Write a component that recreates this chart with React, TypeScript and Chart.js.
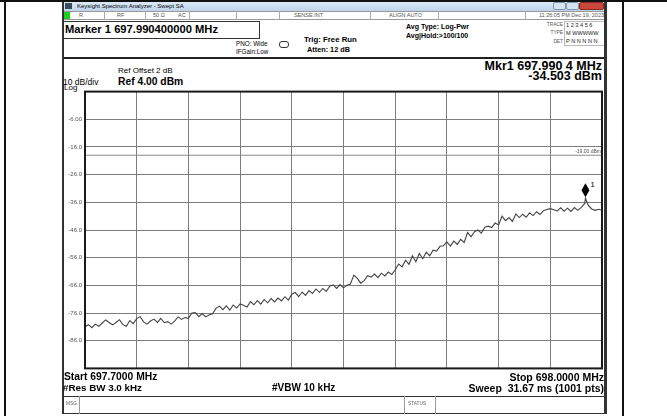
import { useEffect, useRef } from 'react';
import { Chart, registerables } from 'chart.js';
Chart.register(...registerables);

const startMHz = 697.7;
const stopMHz = 698.0;
const stepMHz = 0.002;
const refLevel = 4;
const bottomLevel = -96;
const dbPerDiv = 10;
const xDivMHz = 0.03;
const displayLineDbm = -19;
const markerFreq = 697.9904;
const markerDbm = -34.503;

// trace samples (dBm), every 2 kHz from 697.700 MHz
const traceDbm = [
  -81.0, -80.2, -81.3, -80.0, -80.8, -79.6, -78.5, -79.4, -80.3, -79.4,
  -78.4, -80.2, -80.8, -78.7, -79.8, -78.0, -77.3, -79.2, -80.0, -78.9,
  -78.2, -79.4, -77.9, -79.5, -79.1, -80.0, -78.9, -77.4, -78.3, -77.6,
  -77.9, -76.0, -75.8, -77.3, -76.2, -77.4, -76.7, -76.3, -74.3, -73.5,
  -74.8, -73.4, -74.9, -73.1, -74.2, -72.7, -73.2, -73.8, -71.9, -73.0,
  -71.5, -72.8, -71.1, -72.3, -70.8, -72.0, -70.6, -71.6, -70.1, -71.3,
  -69.2, -68.6, -70.1, -68.4, -69.6, -67.9, -68.9, -67.3, -68.5, -67.1,
  -68.2, -66.3, -65.8, -67.1, -65.7, -66.9, -66.0, -65.5, -62.3, -63.5,
  -65.2, -64.3, -62.5, -63.0, -61.9, -63.2, -61.6, -62.6, -61.2, -62.1,
  -60.4, -58.3, -59.3, -56.9, -58.4, -55.3, -57.5, -54.5, -56.4, -54.0,
  -55.3, -53.3, -53.6, -51.9, -51.7, -50.3, -51.8, -50.0, -51.2, -49.4,
  -50.5, -46.9, -48.5, -46.6, -46.0, -47.1, -45.0, -44.6, -45.1, -43.5,
  -44.2, -41.0, -42.6, -41.5, -42.9, -40.2, -41.5, -40.3, -41.4, -39.8,
  -40.8, -39.4, -40.4, -39.0, -38.6, -38.3, -38.7, -39.1, -38.0, -39.2,
  -38.1, -39.3, -37.9, -38.9, -37.8, -36.4, -37.0, -38.4, -38.9, -38.5,
  -38.9,
];

const yTickLabels: Record<number, string> = {
  [-6]: '-6.00', [-16]: '-16.0', [-26]: '-26.0', [-36]: '-36.0', [-46]: '-46.0',
  [-56]: '-56.0', [-66]: '-66.0', [-76]: '-76.0', [-86]: '-86.0',
};

const FONT = '"Liberation Sans", Arial, sans-serif';

function T(props: { x: number; y: number; s: number; b?: boolean; r?: boolean; c?: string; children: any }) {
  const { x, y, s, b, r, c } = props;
  const style: any = {
    position: 'absolute',
    top: y - s * 0.6,
    lineHeight: s * 1.2 + 'px',
    fontSize: s,
    fontWeight: b ? 'bold' : 'normal',
    whiteSpace: 'pre',
    color: c || '#000',
  };
  if (r) style.right = 667 - x; else style.left = x;
  return <div style={style}>{props.children}</div>;
}

function Box(props: { x: number; y: number; w: number; h: number; bg?: string; border?: string; style?: any }) {
  return (
    <div
      style={{
        position: 'absolute', left: props.x, top: props.y, width: props.w, height: props.h,
        background: props.bg || 'transparent', border: props.border || 'none', boxSizing: 'border-box',
        ...(props.style || {}),
      }}
    />
  );
}

const overlay = {
  id: 'overlay',
  afterDraw(chart: any) {
    const { ctx, chartArea, scales } = chart;
    const x = scales.x, y = scales.y;
    ctx.save();
    ctx.strokeStyle = '#1a1a1a';
    ctx.lineWidth = 2;
    ctx.strokeRect(chartArea.left, chartArea.top, chartArea.right - chartArea.left, chartArea.bottom - chartArea.top);
    const px = x.getPixelForValue(markerFreq);
    const py = y.getPixelForValue(markerDbm);
    ctx.fillStyle = '#000';
    ctx.beginPath();
    ctx.moveTo(px, py - 15);
    ctx.lineTo(px + 4, py - 8);
    ctx.lineTo(px, py - 1);
    ctx.lineTo(px - 4, py - 8);
    ctx.closePath();
    ctx.fill();
    ctx.font = '8px ' + FONT;
    ctx.textAlign = 'left';
    ctx.textBaseline = 'alphabetic';
    ctx.fillText('1', px + 5, py - 11);
    const ly = y.getPixelForValue(displayLineDbm);
    ctx.font = '5px ' + FONT;
    ctx.fillStyle = '#555';
    ctx.textAlign = 'right';
    ctx.fillText('-19.00 dBm', chartArea.right - 1, ly - 2);
    ctx.restore();
  },
};

function SpectrumChart() {
  const ref = useRef<HTMLCanvasElement | null>(null);
  useEffect(() => {
    if (!ref.current) return;
    const pts = traceDbm.map((v, i) => ({ x: startMHz + i * stepMHz, y: v }));
    pts.push({ x: markerFreq, y: markerDbm });
    pts.sort((a, b) => a.x - b.x);
    const chart = new Chart(ref.current, {
      type: 'line',
      data: {
        datasets: [
          {
            data: [{ x: startMHz, y: displayLineDbm }, { x: stopMHz, y: displayLineDbm }],
            borderColor: '#8a8a8a', borderWidth: 1, pointRadius: 0,
          },
          {
            data: pts,
            borderColor: '#444', borderWidth: 1.1, pointRadius: 0, tension: 0,
          },
        ],
      },
      options: {
        animation: false,
        responsive: false,
        maintainAspectRatio: false,
        layout: { padding: { top: 5, right: 1, bottom: 4, left: 0 } },
        plugins: { legend: { display: false }, tooltip: { enabled: false } },
        scales: {
          x: {
            type: 'linear', min: startMHz, max: stopMHz,
            ticks: { display: false, stepSize: xDivMHz },
            grid: { color: '#7d7d7d', lineWidth: 1, drawTicks: false },
            border: { display: false },
            afterFit: (s: any) => { s.height = 0; },
          },
          y: {
            min: bottomLevel, max: refLevel,
            ticks: {
              stepSize: dbPerDiv, padding: 3, color: '#555',
              font: { size: 6, family: FONT },
              callback: (v: any) => yTickLabels[Math.round(Number(v))] || '',
            },
            grid: { color: '#7d7d7d', lineWidth: 1, drawTicks: false },
            border: { display: false },
            afterFit: (s: any) => { s.width = 22; },
          },
        },
      },
      plugins: [overlay],
    } as any);
    return () => chart.destroy();
  }, []);
  return (
    <canvas
      ref={ref}
      width={540}
      height={290}
      style={{ position: 'absolute', left: 63, top: 85, width: 540, height: 290 }}
    />
  );
}

export default function App() {
  const statusDividers = [104, 145, 189, 236, 279, 370, 438, 525];
  return (
    <div style={{ position: 'absolute', left: 0, top: 0, width: 667, height: 416, background: '#fff', overflow: 'hidden', fontFamily: FONT }}>
      {/* page frame */}
      <Box x={0} y={0} w={667} h={2} bg="#111" />
      <Box x={4} y={0} w={2} h={416} bg="#111" />
      <Box x={622} y={0} w={2} h={416} bg="#111" />

      {/* title bar */}
      <Box x={62} y={2} w={545} h={9} style={{ background: 'linear-gradient(#dde9f6, #bcd3ec)' }} />
      <Box x={65} y={3} w={7} h={6} bg="#3b4a5c" />
      <T x={77} y={6.5} s={6}>Keysight Spectrum Analyzer - Swept SA</T>
      <Box x={553} y={2} w={13} h={8} bg="#d6e3f1" border="1px solid #7f96b2" style={{ borderRadius: 2 }} />
      <Box x={566} y={2} w={13} h={8} bg="#d6e3f1" border="1px solid #7f96b2" style={{ borderRadius: 2 }} />
      <Box x={579} y={2} w={25} h={8} bg="#c8473f" border="1px solid #8c2b24" style={{ borderRadius: 2 }} />

      {/* status row */}
      <Box x={62} y={11} w={545} h={9} bg="#fff" border="1px solid #999" />
      <Box x={64} y={12} w={6} h={7} bg="#1bd11b" />
      {statusDividers.map((d) => <Box key={d} x={d} y={11} w={1} h={9} bg="#aaa" />)}
      <T x={79} y={15.5} s={5.5} c="#555">R</T>
      <T x={117} y={15.5} s={5.5} c="#555">RF</T>
      <T x={153} y={15.5} s={5.5} c="#555">50 Ω</T>
      <T x={178} y={15.5} s={5.5} c="#555">AC</T>
      <T x={294} y={15.5} s={5.5} c="#555">SENSE:INT</T>
      <T x={389} y={15.5} s={5.5} c="#555">ALIGN AUTO</T>
      <T x={604} y={15.5} s={5.5} r c="#555">11:26:05 PM Dec 19, 2023</T>

      {/* header */}
      <Box x={63} y={21} w={197} h={18} border="1px solid #333" />
      <T x={65} y={30} s={11.2} b>Marker 1 697.990400000 MHz</T>
      <T x={236} y={44} s={6.3}>PNO: Wide</T>
      <T x={236} y={52} s={6.3}>IFGain:Low</T>
      <Box x={279} y={41} w={10} h={7} border="1px solid #333" style={{ borderRadius: 3 }} />
      <T x={304} y={39.5} s={7.8} b>Trig: Free Run</T>
      <T x={307} y={50} s={7.3} b>Atten: 12 dB</T>
      <T x={406} y={27} s={7} b>Avg Type: Log-Pwr</T>
      <T x={406} y={36} s={7} b>Avg|Hold:&gt;100/100</T>
      <T x={563} y={25} s={4.8} r c="#555">TRACE</T>
      <T x={563} y={33} s={4.8} r c="#555">TYPE</T>
      <T x={563} y={41.5} s={4.8} r c="#555">DET</T>
      <Box x={564} y={21} w={41} h={25} border="1px solid #bbb" />
      <T x={566} y={25} s={5.6} c="#222">1 2 3 4 5 6</T>
      <T x={566} y={33} s={5.6} c="#222">M WWWWW</T>
      <T x={566} y={41.5} s={5.6} c="#222">P N N N N N</T>
      <Box x={62} y={57} w={545} h={2} bg="#222" />

      {/* window side borders */}
      <Box x={62} y={2} w={2} h={412} bg="#333" />
      <Box x={604} y={2} w={3} h={412} bg="#333" />

      {/* graph annotations */}
      <T x={118} y={70.5} s={8}>Ref Offset 2 dB</T>
      <T x={63} y={82} s={8.5}>10 dB/div</T>
      <T x={118} y={82} s={10.3} b>Ref 4.00 dBm</T>
      <T x={64} y={88} s={8}>Log</T>
      <T x={602} y={66} s={12.5} b r>Mkr1 697.990 4 MHz</T>
      <T x={602} y={76.5} s={12.5} b r>-34.503 dBm</T>

      <SpectrumChart />

      {/* bottom annotations */}
      <T x={64} y={377} s={10.3} b>Start 697.7000 MHz</T>
      <T x={604} y={377} s={10.5} b r>Stop 698.0000 MHz</T>
      <T x={63} y={388} s={9.8} b>#Res BW 3.0 kHz</T>
      <T x={272} y={388} s={10} b>#VBW 10 kHz</T>
      <T x={604} y={388} s={10.5} b r>Sweep  31.67 ms (1001 pts)</T>

      {/* status bar */}
      <Box x={62} y={396} w={545} h={18} border="1px solid #333" />
      <Box x={79} y={396} w={1} h={18} bg="#999" />
      <Box x={404} y={396} w={1} h={18} bg="#999" />
      <Box x={435} y={396} w={1} h={18} bg="#999" />
      <T x={66} y={404} s={4.8} c="#666">MSG</T>
      <T x={408} y={404} s={4.8} c="#666">STATUS</T>
    </div>
  );
}
